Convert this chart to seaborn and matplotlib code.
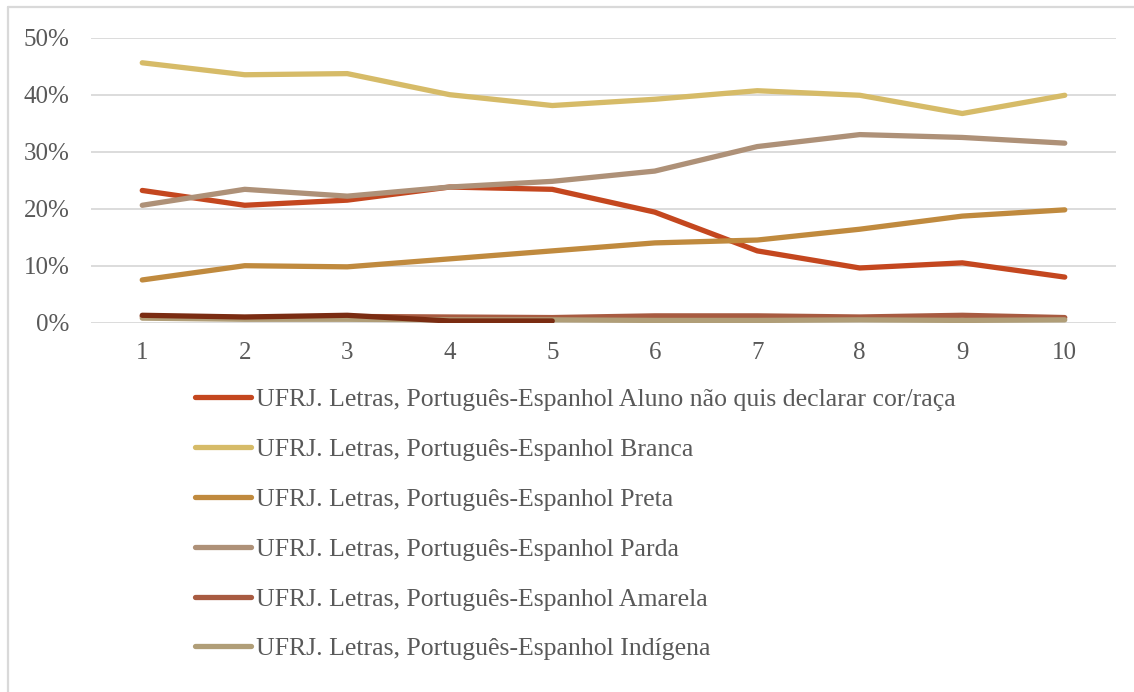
import matplotlib
matplotlib.use("Agg")
import matplotlib.pyplot as plt
from matplotlib.lines import Line2D
from matplotlib.ticker import PercentFormatter
import seaborn as sns
import pandas as pd

# Periods on the horizontal axis
periods = [1, 2, 3, 4, 5, 6, 7, 8, 9, 10]

# Share of students (%) by declared colour/race
nao_declarou = [23.2, 20.6, 21.5, 23.8, 23.4, 19.4, 12.6, 9.6, 10.5, 8.0]
branca = [45.6, 43.5, 43.7, 40.0, 38.1, 39.2, 40.7, 39.9, 36.7, 39.9]
preta = [7.5, 10.0, 9.8, 11.2, 12.6, 14.0, 14.5, 16.4, 18.7, 19.8]
parda = [20.6, 23.4, 22.2, 23.8, 24.8, 26.6, 30.9, 33.0, 32.5, 31.5]
amarela = [1.1, 0.9, 1.1, 1.0, 0.9, 1.2, 1.2, 1.0, 1.3, 0.9]
indigena = [0.8, 0.6, 0.6, 0.5, 0.5, 0.4, 0.4, 0.5, 0.4, 0.5]
# Additional series recorded only for the first five periods
sem_info_periods = [1, 2, 3, 4, 5]
sem_info = [1.3, 1.0, 1.3, 0.3, 0.3]

prefix = "UFRJ. Letras, Português-Espanhol "
labels = [
    prefix + "Aluno não quis declarar cor/raça",
    prefix + "Branca",
    prefix + "Preta",
    prefix + "Parda",
    prefix + "Amarela",
    prefix + "Indígena",
]
colors = ["#C4471F", "#D6BB68", "#C08A3E", "#AE9178", "#A85B41", "#B09E78"]
dark_color = "#7A2C12"

series = [nao_declarou, branca, preta, parda, amarela, indigena]

sns.set_theme(style="white")
plt.rcParams["font.family"] = ["Liberation Serif", "DejaVu Serif"]

W, H = 1134, 692
fig = plt.figure(figsize=(W / 100, H / 100), dpi=100)
ax = fig.add_axes([91 / W, 1 - 322.7 / H, (1116 - 91) / W, (322.7 - 37.7) / H])

lw = 3.8
for vals, lab, col in zip(series, labels, colors):
    df = pd.DataFrame({"periodo": periods, "valor": vals})
    sns.lineplot(data=df, x="periodo", y="valor", color=col, linewidth=lw,
                 ax=ax, legend=False, solid_capstyle="round")
df_dark = pd.DataFrame({"periodo": sem_info_periods, "valor": sem_info})
sns.lineplot(data=df_dark, x="periodo", y="valor", color=dark_color, linewidth=lw,
             ax=ax, legend=False, solid_capstyle="round")

ax.set_xlim(0.5, 10.5)
ax.set_ylim(0, 50)
ax.set_yticks([0, 10, 20, 30, 40, 50])
ax.yaxis.set_major_formatter(PercentFormatter(decimals=0))
ax.set_xticks(periods)
ax.set_xlabel("")
ax.set_ylabel("")
ax.grid(axis="y", color="#D9D9D9", linewidth=1.3)
ax.grid(axis="x", visible=False)
ax.set_axisbelow(True)
for s in ax.spines.values():
    s.set_visible(False)
ax.tick_params(axis="both", length=0, labelsize=18, colors="#595959")
ax.tick_params(axis="y", pad=15.5)
ax.tick_params(axis="x", pad=14)

# Legend below the plot
fs_leg = 18.5
handles = [Line2D([0], [0], color=c, linewidth=lw, solid_capstyle="round") for c in colors]
fig.legend(handles, labels, loc="upper left",
           bbox_to_anchor=(185 / W, 1 - 378 / H),
           frameon=False, fontsize=fs_leg, labelcolor="#595959",
           handlelength=2.15, handletextpad=0.2, labelspacing=1.045,
           borderaxespad=0)

# Chart-area border (top and left edges visible)
border_kw = dict(color="#D9D9D9", linewidth=1.6, transform=fig.transFigure)
fig.add_artist(Line2D([8 / W, 1.0], [1 - 7 / H, 1 - 7 / H], **border_kw))
fig.add_artist(Line2D([8 / W, 8 / W], [1 - 7 / H, 0.0], **border_kw))

fig.savefig("out.png", dpi=100)
